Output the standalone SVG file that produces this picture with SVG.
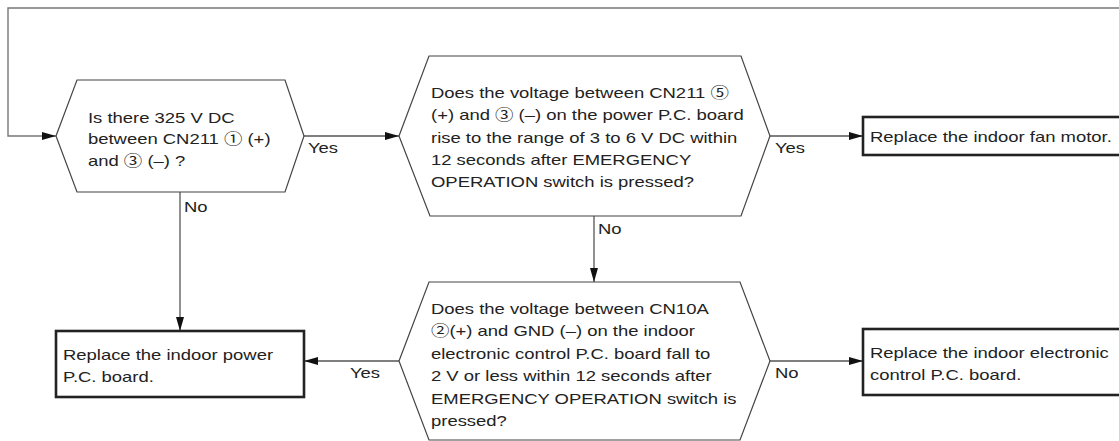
<svg xmlns="http://www.w3.org/2000/svg" width="1119" height="441" viewBox="0 0 1119 441">
<style>
text{font-family:"Liberation Sans","Noto Sans CJK JP","DejaVu Sans",sans-serif;font-size:15px;fill:#222}
.hex{fill:#fff;stroke:#444;stroke-width:1.2}
.box{fill:#fff;stroke:#222;stroke-width:2.6}
.conn{fill:none;stroke:#555;stroke-width:1.3}
.loop{fill:none;stroke:#777;stroke-width:1.4}
</style>
<defs>
<marker id="arr" viewBox="0 0 14 8" refX="14" refY="4" markerWidth="14" markerHeight="8" markerUnits="userSpaceOnUse" orient="auto">
<path d="M0,0 L14,4 L0,8 Z" fill="#111"/>
</marker>
</defs>
<g id="connectors">
<path class="loop" d="M1125,8 H8 V136 H56" marker-end="url(#arr)"/>
<path class="conn" d="M304,136 H399" marker-end="url(#arr)"/>
<path class="conn" d="M180,192 V331" marker-end="url(#arr)"/>
<path class="conn" d="M770,136 H863" marker-end="url(#arr)"/>
<path class="conn" d="M594,216 V282" marker-end="url(#arr)"/>
<path class="conn" d="M399,361 H304" marker-end="url(#arr)"/>
<path class="conn" d="M770,361 H863" marker-end="url(#arr)"/>
<g transform="translate(308,153) scale(1.23 1)"><text>Yes</text></g>
<g transform="translate(184,212) scale(1.23 1)"><text>No</text></g>
<g transform="translate(775,153) scale(1.23 1)"><text>Yes</text></g>
<g transform="translate(598,234) scale(1.23 1)"><text>No</text></g>
<g transform="translate(350,378) scale(1.23 1)"><text>Yes</text></g>
<g transform="translate(775,378) scale(1.23 1)"><text>No</text></g>
</g>
<g id="q1">
<polygon class="hex" points="56,136 77,80 285,80 304,136 285,192 77,192"/>
<g transform="translate(88,122.5) scale(1.23 1)">
<text y="0">Is there 325 V DC</text>
<text y="21.6">between CN211 ① (+)</text>
<text y="43.2">and ③ (–) ?</text>
</g>
</g>
<g id="q2">
<polygon class="hex" points="399,136 429,56 741,56 770,136 741,216 430,216"/>
<g transform="translate(431,98) scale(1.23 1)">
<text y="0">Does the voltage between CN211 ⑤</text>
<text y="22.3">(+) and ③ (–) on the power P.C. board</text>
<text y="44.6">rise to the range of 3 to 6 V DC within</text>
<text y="66.9">12 seconds after EMERGENCY</text>
<text y="89.2">OPERATION switch is pressed?</text>
</g>
</g>
<g id="q3">
<polygon class="hex" points="399,361 429,282 740,282 770,361 740,440 429,440"/>
<g transform="translate(431,314) scale(1.23 1)">
<text y="0">Does the voltage between CN10A</text>
<text y="22.5">②(+) and GND (–) on the indoor</text>
<text y="45">electronic control P.C. board fall to</text>
<text y="67.5">2 V or less within 12 seconds after</text>
<text y="90">EMERGENCY OPERATION switch is</text>
<text y="112.5">pressed?</text>
</g>
</g>
<g id="r1">
<rect class="box" x="56" y="331" width="248" height="66"/>
<g transform="translate(63,360) scale(1.23 1)">
<text y="0">Replace the indoor power</text>
<text y="22">P.C. board.</text>
</g>
</g>
<g id="r2">
<rect class="box" x="863" y="117" width="262" height="38"/>
<g transform="translate(870,142) scale(1.23 1)">
<text y="0">Replace the indoor fan motor.</text>
</g>
</g>
<g id="r3">
<rect class="box" x="863" y="329" width="262" height="66"/>
<g transform="translate(870,358) scale(1.23 1)">
<text y="0">Replace the indoor electronic</text>
<text y="22">control P.C. board.</text>
</g>
</g>
</svg>
